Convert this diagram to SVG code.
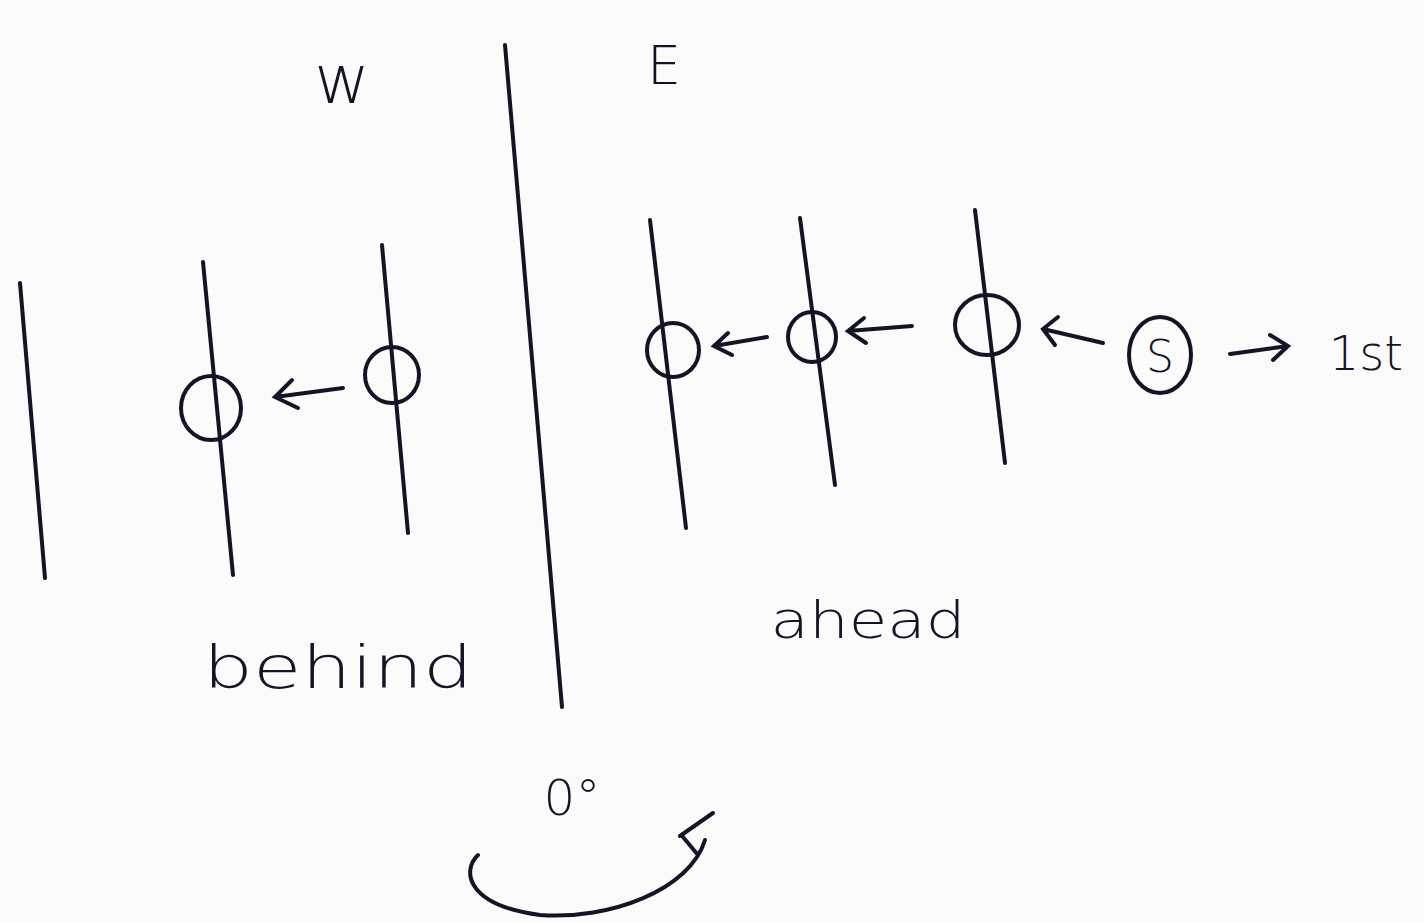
<svg xmlns="http://www.w3.org/2000/svg" width="1424" height="923" viewBox="0 0 1424 923">
<style>
.ln{stroke:#141428;stroke-width:4;stroke-linecap:round;fill:none}
.c{stroke:#141428;stroke-width:4;fill:none}
.t{font-family:"DejaVu Sans","Liberation Sans",sans-serif;fill:#141428;font-weight:300}
</style>
<rect width="1424" height="923" fill="#fbfbfb"/>
<g id="labels">
<text class="t" x="342" y="103" font-size="68" text-anchor="middle">w</text>
<text class="t" x="664" y="84" font-size="54" text-anchor="middle">E</text>
<text class="t" x="338" y="688" font-size="58" text-anchor="middle" textLength="270" lengthAdjust="spacingAndGlyphs">behind</text>
<text class="t" x="868" y="638" font-size="52" text-anchor="middle" textLength="195" lengthAdjust="spacingAndGlyphs">ahead</text>
<text class="t" x="572" y="815" font-size="50" text-anchor="middle">0°</text>
<text class="t" x="1366" y="370" font-size="48" text-anchor="middle">1st</text>
</g>
<g id="divider"><line class="ln" x1="505" y1="45" x2="562" y2="707"/></g>
<g id="wire-w0"><line class="ln" x1="20" y1="283" x2="45" y2="578"/></g>
<g id="wire-w1"><line class="ln" x1="203" y1="262" x2="233" y2="575"/><ellipse class="c" cx="211" cy="408" rx="30" ry="32"/></g>
<g id="wire-w2"><line class="ln" x1="382" y1="245" x2="408" y2="533"/><ellipse class="c" cx="392" cy="375" rx="27" ry="28"/></g>
<g id="wire-e1"><line class="ln" x1="650" y1="220" x2="686" y2="528"/><ellipse class="c" cx="673" cy="350" rx="26" ry="27"/></g>
<g id="wire-e2"><line class="ln" x1="800" y1="218" x2="835" y2="485"/><ellipse class="c" cx="812" cy="337" rx="24" ry="25"/></g>
<g id="wire-e3"><line class="ln" x1="975" y1="210" x2="1005" y2="463"/><ellipse class="c" cx="987" cy="325" rx="32" ry="30"/></g>
<g id="source"><ellipse class="c" cx="1160" cy="355" rx="31" ry="38"/><text class="t" x="1160" y="372" font-size="44" text-anchor="middle">S</text></g>
<g id="connectors">
<path class="ln" d="M343 388 L275 397 M292 380 L275 397 L298 408"/>
<path class="ln" d="M767 337 L714 346 M728 333 L714 346 L732 355"/>
<path class="ln" d="M912 326 L848 331 M864 318 L848 331 L866 343"/>
<path class="ln" d="M1103 343 L1043 329 M1058 317 L1043 329 L1055 345"/>
<path class="ln" d="M1230 354 L1288 346 M1270 335 L1288 346 L1273 360"/>
<path class="ln" d="M478 855 C462 870 465 905 540 915 C610 920 690 890 705 840 M680 836 L713 813 M683 837 L698 855"/>
</g>
</svg>
